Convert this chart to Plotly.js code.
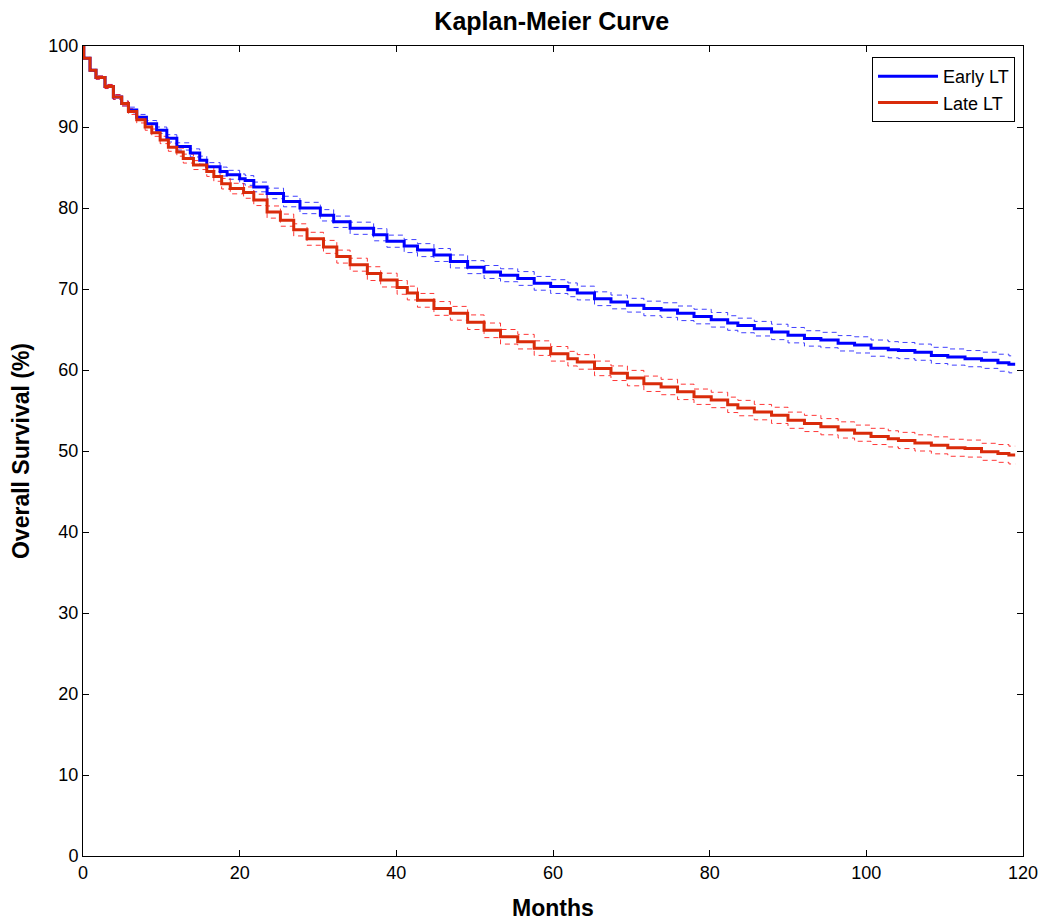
<!DOCTYPE html>
<html>
<head>
<meta charset="utf-8">
<script src="https://cdn.plot.ly/plotly-3.0.1.min.js"></script>
<style>html,body{margin:0;padding:0;background:#fff;}#chart{width:1043px;height:922px;}</style>
</head>
<body>
<div id="chart"></div>
<script>
// Early LT (blue) step times (months) and survival (%)
const earlyTime = [0, 0.1, 0.9, 1.66, 2.81, 3.88, 4.94, 5.8, 6.86, 8.1, 9.4, 10.7, 11.98, 13.7, 14.9, 15.8, 17.5, 18.4, 20.0, 20.7, 21.8, 23.5, 25.6, 27.7, 30.3, 32.0, 34.1, 37.1, 38.8, 41.0, 42.7, 44.8, 46.9, 49.1, 51.2, 53.3, 55.5, 57.6, 59.7, 61.9, 63.1, 65.3, 67.4, 69.5, 71.6, 73.8, 75.9, 78.0, 80.2, 82.3, 83.6, 85.7, 87.9, 90.0, 92.1, 94.2, 96.4, 98.5, 100.6, 102.8, 104.1, 106.2, 108.3, 110.4, 112.6, 114.7, 116.8, 118.2, 119.0];
const earlySurv = [100, 98.5, 97.0, 96.1, 95.0, 93.7, 92.9, 92.1, 91.2, 90.4, 89.6, 88.6, 87.6, 86.8, 85.9, 85.1, 84.5, 84.1, 83.6, 83.4, 82.6, 81.8, 80.8, 80.0, 79.1, 78.3, 77.5, 76.7, 75.9, 75.3, 74.8, 74.2, 73.4, 72.7, 72.1, 71.7, 71.3, 70.7, 70.3, 69.9, 69.5, 68.8, 68.4, 68.0, 67.6, 67.4, 67.0, 66.6, 66.2, 65.8, 65.5, 65.1, 64.7, 64.3, 63.9, 63.7, 63.3, 63.1, 62.7, 62.5, 62.4, 62.2, 61.8, 61.6, 61.4, 61.2, 60.9, 60.7, 60.7];
const earlyCI = [0, 0.1, 0.15, 0.2, 0.25, 0.3, 0.3, 0.35, 0.35, 0.4, 0.4, 0.45, 0.45, 0.5, 0.5, 0.5, 0.55, 0.55, 0.6, 0.6, 0.6, 0.65, 0.65, 0.7, 0.7, 0.7, 0.75, 0.75, 0.75, 0.8, 0.8, 0.8, 0.8, 0.8, 0.8, 0.8, 0.85, 0.85, 0.85, 0.85, 0.85, 0.85, 0.85, 0.85, 0.9, 0.9, 0.9, 0.9, 0.9, 0.9, 0.9, 0.9, 0.95, 0.95, 0.95, 0.95, 0.95, 1.0, 1.0, 1.0, 1.0, 1.0, 1.0, 1.0, 1.0, 1.0, 1.05, 1.05, 1.05];

// Late LT (red)
const lateTime = [0, 0.1, 0.9, 1.66, 2.81, 3.88, 4.94, 5.8, 6.86, 7.93, 8.78, 9.85, 10.9, 11.98, 12.8, 14.1, 15.8, 16.7, 17.7, 18.8, 20.5, 21.8, 23.5, 25.2, 26.9, 28.6, 30.7, 32.4, 34.1, 36.3, 38.0, 40.1, 41.4, 42.7, 44.8, 46.9, 49.1, 51.2, 53.3, 55.5, 57.6, 59.7, 61.9, 63.1, 65.3, 67.4, 69.5, 71.6, 73.8, 75.9, 78.0, 80.2, 82.3, 83.6, 85.7, 87.9, 90.0, 92.1, 94.2, 96.4, 98.5, 100.6, 102.8, 104.1, 106.2, 108.3, 110.4, 112.6, 114.7, 116.8, 118.2, 119.0];
const lateSurv = [100, 98.5, 97.0, 96.1, 95.0, 93.7, 92.9, 91.9, 90.9, 90.0, 89.3, 88.4, 87.5, 86.9, 86.1, 85.3, 84.5, 83.9, 83.0, 82.4, 81.9, 81.0, 79.5, 78.5, 77.3, 76.2, 75.2, 74.0, 73.0, 71.9, 71.1, 70.2, 69.5, 68.6, 67.6, 67.0, 65.9, 64.9, 64.1, 63.5, 62.7, 62.0, 61.4, 61.0, 60.2, 59.6, 59.0, 58.3, 57.9, 57.3, 56.7, 56.3, 55.7, 55.3, 54.8, 54.4, 53.8, 53.4, 53.0, 52.6, 52.2, 51.8, 51.5, 51.3, 51.0, 50.7, 50.4, 50.3, 49.9, 49.7, 49.5, 49.5];
const lateCI = [0, 0.1, 0.15, 0.2, 0.25, 0.3, 0.3, 0.35, 0.4, 0.4, 0.45, 0.45, 0.5, 0.5, 0.55, 0.55, 0.6, 0.6, 0.65, 0.65, 0.7, 0.7, 0.75, 0.75, 0.75, 0.8, 0.8, 0.8, 0.8, 0.85, 0.85, 0.85, 0.85, 0.85, 0.85, 0.85, 0.9, 0.9, 0.9, 0.9, 0.9, 0.9, 0.9, 0.9, 0.9, 0.9, 0.95, 0.95, 0.95, 0.95, 0.95, 0.95, 0.95, 0.95, 0.95, 1.0, 1.0, 1.0, 1.0, 1.0, 1.0, 1.0, 1.0, 1.0, 1.0, 1.05, 1.05, 1.05, 1.05, 1.1, 1.1, 1.1];

const seriesNames = ["Early LT", "Late LT"];
const xTicks = [0, 20, 40, 60, 80, 100, 120];
const yTicks = [0, 10, 20, 30, 40, 50, 60, 70, 80, 90, 100];

const BLUE = "#0000FF", RED = "#D92B0A";
const CIBLUE = "rgba(30,30,255,0.85)", CIRED = "rgba(255,20,20,0.85)";

function ciTrace(t, s, h, sign, color) {
  return {
    x: t, y: s.map((v, i) => v + sign * h[i]),
    mode: "lines", line: {shape: "hv", color: color, width: 1, dash: "5px,4px"},
    showlegend: false, hoverinfo: "skip"
  };
}

const traces = [
  ciTrace(earlyTime, earlySurv, earlyCI, 1, CIBLUE),
  ciTrace(earlyTime, earlySurv, earlyCI, -1, CIBLUE),
  ciTrace(lateTime, lateSurv, lateCI, 1, CIRED),
  ciTrace(lateTime, lateSurv, lateCI, -1, CIRED),
  {x: earlyTime, y: earlySurv, name: seriesNames[0], mode: "lines", line: {shape: "hv", color: BLUE, width: 3}},
  {x: lateTime, y: lateSurv, name: seriesNames[1], mode: "lines", line: {shape: "hv", color: RED, width: 3}}
];

const FONT = "Liberation Sans, Arial, Helvetica, sans-serif";
const axisCommon = {
  showgrid: false, zeroline: false, showline: true, linecolor: "#000", linewidth: 1,
  mirror: "ticks", ticks: "inside", ticklen: 6, tickcolor: "#000", tickwidth: 1,
  tickfont: {family: FONT, size: 18, color: "#000"}
};

const layout = {
  width: 1043, height: 922,
  margin: {l: 83, r: 20, t: 46, b: 66},
  paper_bgcolor: "#fff", plot_bgcolor: "#fff",
  font: {family: FONT, color: "#000"},
  title: {text: "<b>Kaplan-Meier Curve</b>", font: {family: FONT, size: 25, color: "#000"}, x: 0.529, xanchor: "center", y: 0.977, yanchor: "middle"},
  xaxis: Object.assign({}, axisCommon, {range: [0, 120], tickvals: xTicks, ticktext: xTicks.map(String),
    title: {text: "<b>Months</b>", font: {family: FONT, size: 23, color: "#000"}, standoff: 18}}),
  yaxis: Object.assign({}, axisCommon, {range: [0, 100], tickvals: yTicks, ticktext: yTicks.map(String),
    title: {text: "<b>Overall Survival (%)</b>", font: {family: FONT, size: 23, color: "#000"}, standoff: 12}}),
  legend: {x: 0.9915, y: 0.9864, xanchor: "right", yanchor: "top", bordercolor: "#000", borderwidth: 1,
    bgcolor: "#fff", font: {family: FONT, size: 18, color: "#000"}, itemwidth: 60, tracegroupgap: 0},
  showlegend: true
};

Plotly.newPlot("chart", traces, layout, {displayModeBar: false, staticPlot: true});
</script>
</body>
</html>
